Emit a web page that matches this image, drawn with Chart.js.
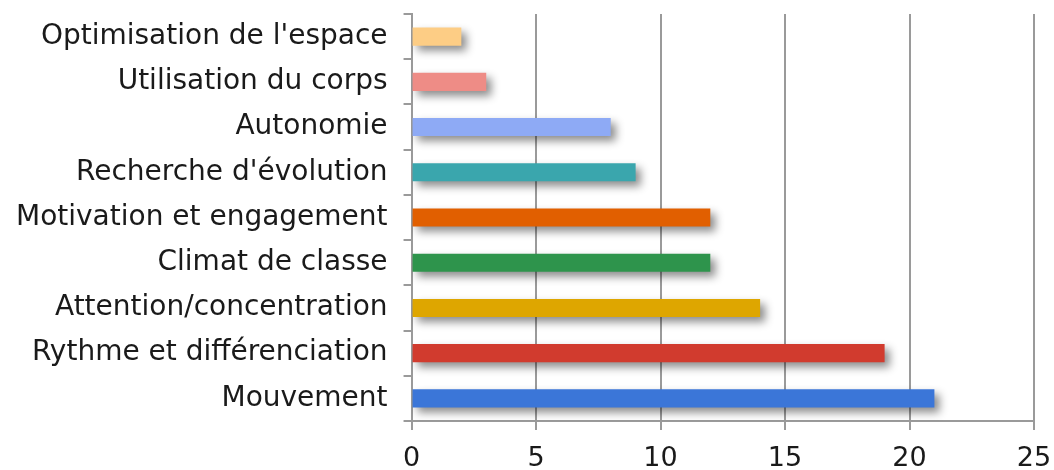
<!DOCTYPE html>
<html>
<head>
<meta charset="utf-8">
<script src="https://cdn.jsdelivr.net/npm/chart.js@4.4.0/dist/chart.umd.min.js"></script>
<style>
  html, body { margin: 0; padding: 0; background: #fff; }
  #wrap { width: 1054px; height: 470px; }
</style>
</head>
<body>
<div id="wrap"><canvas id="barChart"></canvas></div>
<script>
const categories = [
    'Optimisation de l\'espace',
    'Utilisation du corps',
    'Autonomie',
    'Recherche d\'évolution',
    'Motivation et engagement',
    'Climat de classe',
    'Attention/concentration',
    'Rythme et différenciation',
    'Mouvement'
];
const counts = [2, 3, 8, 9, 12, 12, 14, 19, 21];
const barColors = [
    '#fdcd85', '#ee8c86', '#8eaaf5', '#3aa6ad', '#e15f00',
    '#2e944c', '#dea600', '#d13b2e', '#3b76d8'
];
const xTicks = [0, 5, 10, 15, 20, 25];

// drop shadow under the bars
const barShadow = {
    id: 'barShadow',
    beforeDatasetsDraw(chart) {
        const ctx = chart.ctx;
        ctx.save();
        ctx.shadowColor = 'rgba(0, 0, 0, 0.45)';
        ctx.shadowBlur = 9;
        ctx.shadowOffsetX = 5;
        ctx.shadowOffsetY = 5;
    },
    afterDatasetsDraw(chart) {
        chart.ctx.restore();
    }
};

function drawChart() {
    const ctx = document.getElementById('barChart').getContext('2d');
    new Chart(ctx, {
        type: 'bar',
        data: {
            labels: categories,
            datasets: [{
                data: counts,
                backgroundColor: barColors,
                borderWidth: 0,
                barPercentage: 0.4,
                categoryPercentage: 1
            }]
        },
        options: {
            indexAxis: 'y',
            responsive: true,
            maintainAspectRatio: false,
            animation: false,
            layout: { padding: { top: 14, right: 20, left: 0, bottom: 0 } },
            scales: {
                x: {
                    min: 0,
                    max: 25,
                    afterBuildTicks: (axis) => { axis.ticks = xTicks.map(v => ({ value: v })); },
                    afterFit: (scale) => {
                        scale.paddingLeft = 0;
                        scale.paddingRight = 0;
                        scale.height = 49;
                    },
                    grid: {
                        color: '#9a9a9a',
                        lineWidth: 2,
                        tickLength: 9
                    },
                    border: { color: '#9a9a9a', width: 2 },
                    ticks: {
                        color: '#1a1a1a',
                        padding: 18,
                        font: { family: 'DejaVu Sans', size: 27, lineHeight: 0.8 }
                    }
                },
                y: {
                    afterFit: (scale) => { scale.paddingTop = 0; scale.paddingBottom = 0; },
                    grid: {
                        drawOnChartArea: false,
                        color: '#9a9a9a',
                        lineWidth: 2,
                        tickLength: 8
                    },
                    border: { color: '#9a9a9a', width: 2 },
                    ticks: {
                        color: '#1a1a1a',
                        padding: 16,
                        font: { family: 'DejaVu Sans', size: 28 }
                    }
                }
            },
            plugins: {
                legend: { display: false },
                tooltip: { enabled: false }
            }
        },
        plugins: [barShadow]
    });
}
drawChart();
</script>
</body>
</html>
